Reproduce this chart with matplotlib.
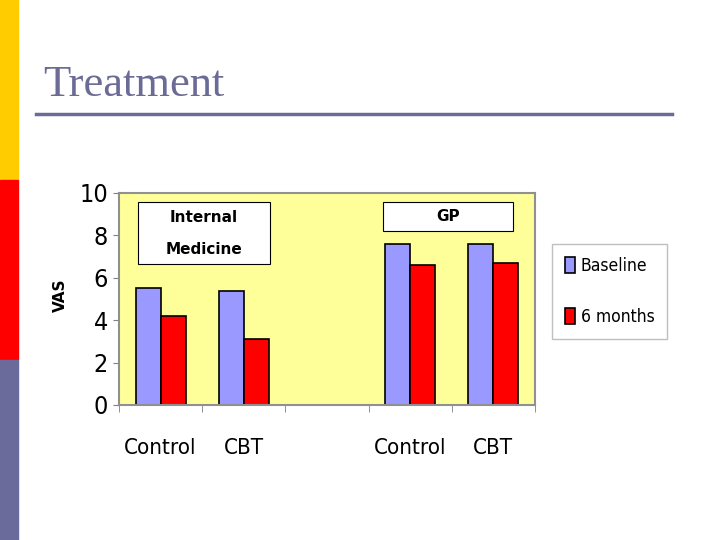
import matplotlib.pyplot as plt
from matplotlib.patches import Rectangle
from matplotlib.lines import Line2D

# --------------------------------------------------
# DATA
# --------------------------------------------------

categories = ["Control", "CBT", "", "Control", "CBT"]
baseline = [5.5, 5.4, 0, 7.6, 7.6]
six_months = [4.2, 3.1, 0, 6.6, 6.7]
series_names = ["Baseline", "6 months"]
group_labels = ["Internal\nMedicine", "GP"]

narrow = dict(family="DejaVu Sans", stretch="condensed")

# --------------------------------------------------
# FIGURE
# --------------------------------------------------

fig = plt.figure(figsize=(7.2, 5.4), dpi=100)

# side strip of the slide
fig.patches.append(Rectangle((0, 2/3), 18/720, 1/3, transform=fig.transFigure, color="#ffcc00"))
fig.patches.append(Rectangle((0, 1/3), 18/720, 1/3, transform=fig.transFigure, color="#ff0000"))
fig.patches.append(Rectangle((0, 0), 18/720, 1/3, transform=fig.transFigure, color="#6b6b9b"))

fig.text(43/720, 1 - 85/540, "Treatment", family="Liberation Serif", fontsize=32,
         color="#6b6b96", va="center", ha="left")
fig.lines.append(Line2D([36/720, 672/720], [1 - 114/540, 1 - 114/540],
                        transform=fig.transFigure, color="#6b6b96", lw=2.5))

ax = fig.add_axes([119/720, 1 - 405/540, 416/720, 212/540])
ax.set_facecolor("#ffff99")

x = list(range(len(categories)))
w = 0.3
xb = [i - w/2 for i in x]
xr = [i + w/2 for i in x]

i = 0
while i < len(x):
    if baseline[i] > 0:
        ax.bar(xb[i], baseline[i], w, color="#9999ff", edgecolor="black", lw=1.2,
               label=series_names[0] if i == 0 else None)
        ax.bar(xr[i], six_months[i], w, color="#ff0000", edgecolor="black", lw=1.2,
               label=series_names[1] if i == 0 else None)
    i += 1

ax.set_xlim(-0.5, 4.5)
ax.set_ylim(0, 10)
ax.set_yticks([0, 2, 4, 6, 8, 10])
ax.set_yticklabels(["0", "2", "4", "6", "8", "10"], fontsize=18, **narrow)
ax.set_xticks(x)
ax.set_xticklabels(categories, fontsize=16, **narrow)
ax.tick_params(axis="x", which="major", length=0, pad=24)
ax.set_xticks([-0.5, 0.5, 1.5, 2.5, 3.5, 4.5], minor=True)
ax.tick_params(axis="x", which="minor", length=5, color="#808080", direction="out")
ax.tick_params(axis="y", length=4, color="#808080", pad=4)

for s in ax.spines.values():
    s.set_color("#909090")
    s.set_linewidth(1.5)

ax.set_ylabel("VAS", fontweight="bold", fontsize=11)
ax.yaxis.set_label_coords(-0.123, 0.52)

# group boxes
ax.add_patch(Rectangle((-0.272, 6.65), 1.587, 2.93, fc="white", ec="black", lw=0.8))
ax.add_patch(Rectangle((2.673, 8.21), 1.563, 1.37, fc="white", ec="black", lw=0.8))
ax.text(0.52, 8.1, group_labels[0], ha="center", va="center", fontsize=11,
        fontweight="bold", linespacing=2.4)
ax.text(3.455, 8.9, group_labels[1], ha="center", va="center", fontsize=11,
        fontweight="bold")

leg = fig.legend(loc="upper left", bbox_to_anchor=(552/720, 1 - 244/540),
                 prop=dict(size=12.5, **narrow), frameon=True, fancybox=False,
                 edgecolor="#b0b0b0", handlelength=0.6, handleheight=1.0,
                 handletextpad=0.3, labelspacing=1.9, borderpad=0.75,
                 borderaxespad=0)
leg.get_frame().set_linewidth(1.0)

fig.savefig("out.png", dpi=100)
